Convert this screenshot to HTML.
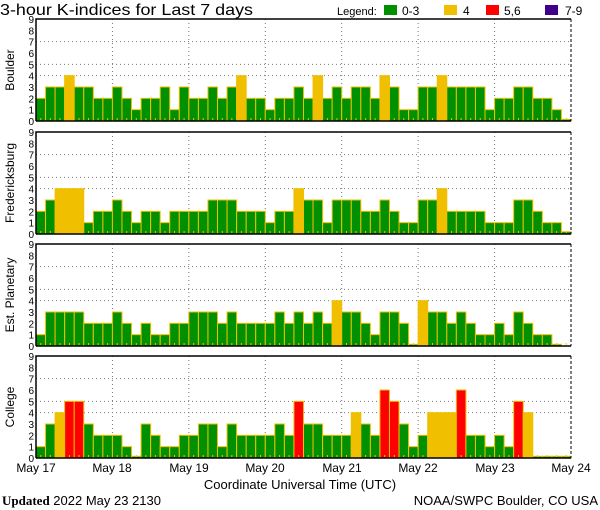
<!DOCTYPE html>
<html><head><meta charset="utf-8"><style>
html,body{margin:0;padding:0;background:#fff;width:600px;height:510px;overflow:hidden}
svg{display:block;font-family:"Liberation Sans",sans-serif}
</style></head><body>
<svg id="s" width="600" height="510" viewBox="0 0 600 510" xmlns="http://www.w3.org/2000/svg">
<text x="0" y="15" font-size="16" textLength="253" lengthAdjust="spacingAndGlyphs">3-hour K-indices for Last 7 days</text>
<text x="337" y="15" font-size="11">Legend:</text>
<rect x="384" y="5" width="13" height="10" fill="#009000"/><text x="402" y="15" font-size="12">0-3</text>
<rect x="444" y="5" width="13" height="10" fill="#f0c000"/><text x="463" y="15" font-size="12">4</text>
<rect x="486" y="5" width="13" height="10" fill="#ff0000"/><text x="504" y="15" font-size="12">5,6</text>
<rect x="545" y="5" width="13" height="10" fill="#40008a"/><text x="565" y="15" font-size="12">7-9</text>
<g font-size="12" text-anchor="middle">
<text transform="translate(14,70) rotate(-90)">Boulder</text>
<text transform="translate(14,183) rotate(-90)">Fredericksburg</text>
<text transform="translate(14,295) rotate(-90)">Est. Planetary</text>
<text transform="translate(14,407) rotate(-90)">College</text>
</g>
<g font-size="12" text-anchor="middle">
<text x="36" y="472">May 17</text><text x="112" y="472">May 18</text><text x="189" y="472">May 19</text><text x="265" y="472">May 20</text><text x="342" y="472">May 21</text><text x="418" y="472">May 22</text><text x="495" y="472">May 23</text><text x="571" y="472">May 24</text>
<text x="300" y="489" font-size="13">Coordinate Universal Time (UTC)</text>
</g>
<text x="2" y="505" font-size="13"><tspan font-weight="bold" font-family="Liberation Serif,serif">Updated</tspan> 2022 May 23 2130</text>
<text x="598" y="505" font-size="13" text-anchor="end">NOAA/SWPC Boulder, CO USA</text>
<g id="yl" font-size="10" text-anchor="end"></g>
<g id="g"></g>
</svg>
<script>
var data=[
[2,3,3,4,3,3,2,2, 3,2,1,2,2,3,1,3, 2,2,3,2,3,4,2,2, 1,2,2,3,2,4,2,3, 2,3,3,2,4,3,1,1, 3,3,4,3,3,3,3,1, 2,2,3,3,2,2,1,0.15],
[2,3,4,4,4,1,2,2, 3,2,1,2,2,1,2,2, 2,2,3,3,3,2,2,2, 1,2,2,4,3,3,1,3, 3,3,2,2,3,2,1,1, 3,3,4,2,2,2,2,1, 1,1,3,3,2,1,1,0.2],
[1,3,3,3,3,2,2,2, 3,2,1,2,1,1,2,2, 3,3,3,2,3,2,2,2, 2,3,2,3,2,3,2,4, 3,3,2,1,3,3,2,0.15, 4,3,3,2,3,2,1,1, 2,1,3,2,1,1,0.15,0],
[1,3,4,5,5,3,2,2, 2,1,0.15,3,2,1,1,2, 2,3,3,1,3,2,2,2, 2,3,2,5,3,3,2,2, 2,4,3,2,6,5,3,1, 2,4,4,4,6,2,2,1, 2,1,5,4,0.15,0.15,0.15,0.15]];
var tops=[19,132,244,356],H=102,L=36,R=571,W=(R-L)/56,u=H/9;
var g=document.getElementById('g'),yl=document.getElementById('yl'),h='',y='';
tops.forEach(function(t,p){
 var b=t+H;
 [4,5,7].forEach(function(k){h+='<line x1="'+L+'" x2="'+R+'" y1="'+(b-k*u)+'" y2="'+(b-k*u)+'" stroke="#777" stroke-dasharray="1,3"/>';});
 for(var d=1;d<7;d++){var x=L+d*(R-L)/7;h+='<line x1="'+x+'" x2="'+x+'" y1="'+t+'" y2="'+b+'" stroke="#777" stroke-dasharray="1,3"/>';}
 data[p].forEach(function(v,i){
  var x=L+i*W,c=v>=7?'#40008a':v>=5?'#ff0000':v>=4?'#f0c000':'#009000';
  if(v>0)h+='<rect x="'+x.toFixed(2)+'" y="'+(b-v*u).toFixed(2)+'" width="'+W.toFixed(2)+'" height="'+(v*u).toFixed(2)+'" fill="'+c+'" stroke="#f0c000" stroke-width="1"/>';
  h+='<rect x="'+(x+W/2-0.5).toFixed(2)+'" y="'+(b-3)+'" width="1" height="2" fill="#f0c000"/>';
 });
 h+='<path d="M'+R+' '+t+'V'+b+'" stroke="#000" stroke-dasharray="3,2"/>';
 h+='<path d="M'+L+' '+b+'V'+t+'H'+R+'M'+L+' '+b+'H'+R+'" stroke="#000" stroke-width="1.5" fill="none"/>';
 for(var k=0;k<=9;k++)y+='<text x="34" y="'+(b-k*u+4).toFixed(1)+'">'+k+'</text>';
});
g.innerHTML=h;yl.innerHTML=y;
</script>
</body></html>
